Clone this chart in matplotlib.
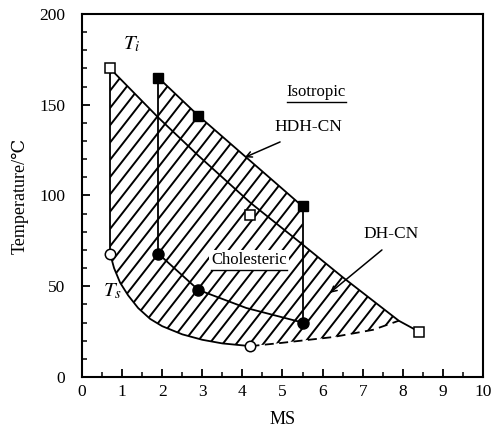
import numpy as np
import matplotlib
matplotlib.use("Agg")
import matplotlib.pyplot as plt
from matplotlib.patches import Polygon
from matplotlib.collections import LineCollection

plt.rcParams['font.family'] = ['Liberation Serif', 'DejaVu Serif']
plt.rcParams['mathtext.fontset'] = 'stix'

# measured transition points (MS, temperature in deg C)
dh_ti_x = [0.7, 4.2, 8.4]
dh_ti_y = [170, 89, 25]
dh_ts_x = [0.7, 4.2]
dh_ts_y = [68, 17]
hdh_ti_x = [1.9, 2.9, 5.5]
hdh_ti_y = [165, 144, 94]
hdh_ts_x = [1.9, 2.9, 5.5]
hdh_ts_y = [68, 48, 30]

# phase boundaries as drawn through the points
dh_top_x = [0.7, 1.9, 2.9, 4.2, 5.5, 6.5, 7.9, 8.4]
dh_top_y = [170, 143, 122, 96, 73, 55, 31, 25]
dh_bot_x = [0.7, 0.8, 0.95, 1.15, 1.4, 1.7, 2.0, 2.5, 3.0, 3.5, 4.2]
dh_bot_y = [68, 60, 52, 45, 38, 32, 28, 23.5, 20.5, 18.5, 17]
dh_dash_x = [4.2, 4.94, 6.26, 7.26, 7.9]
dh_dash_y = [17, 18.7, 22, 26, 31]
hdh_bot_x = [1.9, 2.9, 4.1, 5.5]
hdh_bot_y = [68, 48, 38, 30]

fig = plt.figure(figsize=(4.93, 4.40), dpi=100)
ax = fig.add_axes([0.1663, 0.1432, 0.8134, 0.825])
ax.set_xlim(0, 10)
ax.set_ylim(0, 200)

lw = 1.3


def hatch_region(xs, ys):
    poly = Polygon(np.column_stack([xs, ys]), closed=True, fill=False, lw=0)
    ax.add_patch(poly)
    w, h = 401.0, 363.0
    ang = np.deg2rad(52)
    run = h / np.tan(ang)
    segs = []
    for c in np.arange(-run - 20, w + 20, 13.5):
        segs.append([(c / w, 0), ((c + run) / w, 1)])
    lc = LineCollection(segs, transform=ax.transAxes, colors='k', lw=1.4)
    lc.set_clip_path(poly)
    ax.add_collection(lc, autolim=False)


# cholesteric range of both compounds as one outline
out_x = (dh_top_x[:2] + hdh_ti_x + dh_top_x[4:7]
         + dh_dash_x[::-1][1:] + dh_bot_x[::-1][1:])
out_y = (dh_top_y[:2] + hdh_ti_y + dh_top_y[4:7]
         + dh_dash_y[::-1][1:] + dh_bot_y[::-1][1:])
hatch_region(out_x, out_y)

ax.plot(dh_top_x, dh_top_y, color='k', lw=lw)
ax.plot(dh_bot_x, dh_bot_y, color='k', lw=lw)
ax.plot(dh_dash_x, dh_dash_y, color='k', lw=lw, ls=(0, (5, 3)))
ax.plot([dh_ti_x[0], dh_ts_x[0]], [dh_ti_y[0], dh_ts_y[0]], color='k', lw=lw)

ax.plot(hdh_ti_x, hdh_ti_y, color='k', lw=lw)
ax.plot(hdh_bot_x, hdh_bot_y, color='k', lw=lw)
ax.plot([hdh_ti_x[0], hdh_ts_x[0]], [hdh_ti_y[0], hdh_ts_y[0]], color='k', lw=lw)
ax.plot([hdh_ti_x[-1], hdh_ts_x[-1]], [hdh_ti_y[-1], hdh_ts_y[-1]], color='k', lw=lw)

ax.plot(dh_ti_x, dh_ti_y, ls='none', marker='s', ms=7.5, mfc='white', mec='k', mew=1.1, zorder=5)
ax.plot(dh_ts_x, dh_ts_y, ls='none', marker='o', ms=7.5, mfc='white', mec='k', mew=1.1, zorder=5)
ax.plot(hdh_ti_x, hdh_ti_y, ls='none', marker='s', ms=7.5, color='k', zorder=5)
ax.plot(hdh_ts_x, hdh_ts_y, ls='none', marker='o', ms=8, color='k', zorder=5)

# labels
ax.text(1.25, 183, r'$T_i$', fontsize=15, ha='center', va='center')
ax.text(0.75, 47, r'$T_s$', fontsize=15, ha='center', va='center')
iso = ax.text(5.84, 157, 'Isotropic', fontsize=12, ha='center', va='center')
chol = ax.text(4.16, 64.5, 'Cholesteric', fontsize=12, ha='center', va='center',
               zorder=4, bbox=dict(fc='white', ec='none', pad=1.5))
ax.text(5.64, 138, 'HDH-CN', fontsize=12.5, ha='center', va='center')
ax.text(7.71, 79, 'DH-CN', fontsize=12.5, ha='center', va='center')

arrow = dict(arrowstyle='->', color='k', lw=1.1, shrinkA=0, shrinkB=0)
ax.annotate('', xy=(4.06, 121), xytext=(4.94, 129.5), arrowprops=arrow)
ax.annotate('', xy=(6.18, 46.3), xytext=(7.48, 70), arrowprops=arrow)

ax.set_xticks(np.arange(0, 11, 1))
ax.set_xticks(np.arange(0.5, 10, 1), minor=True)
ax.set_yticks(np.arange(0, 201, 50))
ax.set_yticks(np.arange(0, 201, 10), minor=True)
ax.tick_params(which='both', direction='in', top=False, right=False, labelsize=12.5)
ax.tick_params(which='major', length=6, width=1.3)
ax.tick_params(which='minor', length=3.5, width=1.1)
ax.tick_params(axis='y', pad=12)
ax.tick_params(axis='x', pad=5)
for s in ax.spines.values():
    s.set_linewidth(1.5)

ax.set_xlabel('MS', fontsize=13, labelpad=8)
ax.set_ylabel('Temperature/℃', fontsize=13, labelpad=8)

# underline the phase names
fig.canvas.draw()
inv = ax.transData.inverted()
for t in (iso, chol):
    bb = t.get_window_extent()
    (x0, y0), (x1, _) = inv.transform([(bb.x0, bb.y0 - 2), (bb.x1, bb.y1)])
    ax.plot([x0, x1], [y0, y0], color='k', lw=1.0, zorder=4.5)

fig.savefig('out.png', dpi=100)
